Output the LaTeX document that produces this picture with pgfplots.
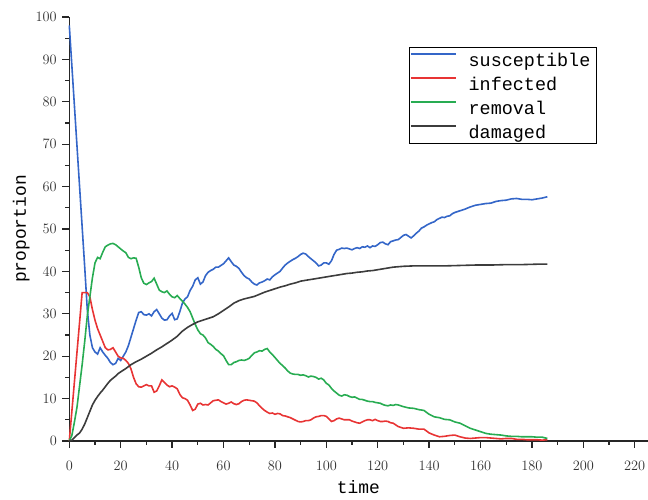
\documentclass[border=0pt]{standalone}
\usepackage{pgfplots}
\pgfplotsset{compat=1.18}
\usepackage{pgfplotstable}
\usepackage{fontspec}
\setmonofont{Liberation Mono}
\definecolor{cS}{RGB}{52,102,200}
\definecolor{cI}{RGB}{232,52,52}
\definecolor{cR}{RGB}{40,172,82}
\definecolor{cD}{RGB}{60,60,60}
\pgfplotstableread{
x y
0 98
1 88.5
2 79
3 69.5
4 60
5 50.5
6 41
7 31
8 25
9 22
10 21
11 20.5
12 22
13 21
14 20.2
15 19.5
16 18.5
17 18
18 18.3
19 19.5
20 19
21 20
22 21
23 22.5
24 24.5
25 26.5
26 28.5
27 30.3
28 30.5
29 29.8
30 29.7
31 30
32 29.5
33 30.5
34 31
35 30
36 29
37 28.5
38 28.6
39 29.5
40 30.1
41 28.6
42 28.8
43 30.5
44 32.5
45 33.5
46 34
47 35.5
48 36.5
49 38
50 38.5
51 37
52 37.5
53 39
54 39.8
55 40.2
56 40.5
57 41
58 41
59 41.4
60 41.8
61 42.5
62 43.2
63 42.3
64 41.5
65 41.2
66 40.7
67 39.8
68 39
69 38.5
70 38.2
71 37.5
72 37
73 36.8
74 37.3
75 37.5
76 37.8
77 38.2
78 38
79 38.7
80 39.2
81 39.6
82 40
83 40.8
84 41.5
85 42
86 42.4
87 42.8
88 43.1
89 43.5
90 44
91 44.3
92 44.1
93 43.5
94 43
95 42.5
96 42
97 41.3
98 41.5
99 42
100 42
101 41.7
102 42.5
103 44
104 45
105 45.2
106 45.5
107 45.4
108 45.5
109 45.3
110 45.1
111 45.4
112 45.6
113 45.4
114 45.8
115 45.7
116 46
117 45.6
118 46
119 45.9
120 46.3
121 46.8
122 46.9
123 46.5
124 46.3
125 47
126 47.2
127 47.4
128 47.5
129 48
130 48.5
131 48.7
132 48.3
133 47.9
134 48.4
135 49
136 49.5
137 50.2
138 50.5
139 50.9
140 51.2
141 51.5
142 51.7
143 52.2
144 52.5
145 52.8
146 52.7
147 53
148 53.1
149 53.6
150 53.9
152 54.3
154 54.7
156 55.2
158 55.6
160 55.8
162 56
164 56.1
166 56.5
168 56.7
170 56.8
172 57.1
174 57.2
176 57
178 57
180 56.9
182 57.1
184 57.3
186 57.6
}\tabS
\pgfplotstableread{
x y
0 0
1 7
2 14
3 21
4 28
5 35
6 35
7 35
8 34
9 31
10 28.5
11 26.5
12 25
13 23.5
14 22
15 21.5
16 21.6
17 22
18 21
19 20
20 19.6
21 19.5
22 19
23 18.3
24 17
25 15
26 13.5
27 12.8
28 12.7
29 13
30 13.3
31 13
32 13
33 11.5
34 11.8
35 13
36 14.4
37 13.8
38 13.2
39 12.8
40 13
41 12.7
42 12.3
43 11
44 10.2
45 10
46 9.6
47 8.5
48 7.2
49 7.5
50 8.7
51 8.9
52 8.5
53 8.6
54 8.5
55 9
56 9.5
57 9.6
58 9.7
59 9.3
60 9
61 8.7
62 8.9
63 9.2
64 8.8
65 8.6
66 8.8
67 9.3
68 9.6
69 9.7
70 9.6
71 9.5
72 9.4
73 9
74 8.3
75 7.7
76 7.2
77 6.8
78 6.5
79 6.6
80 6.3
81 6.5
82 6.4
83 6.0
84 5.9
85 5.7
86 5.5
87 5.2
88 4.9
89 4.6
90 4.5
91 4.6
92 4.8
93 4.8
94 5
95 5.4
96 5.7
97 5.8
98 6
99 6
100 5.8
101 5.2
102 4.6
103 4.8
104 5.2
105 5.4
106 5.2
107 5
108 5
109 5
110 4.7
111 4.5
112 4.3
113 4.2
114 4.5
115 4.8
116 5
117 5
118 4.8
119 5.1
120 4.8
121 4.6
122 4.6
123 4.7
124 4.6
125 4.3
126 4.2
127 3.8
128 3.4
129 3.2
130 3
132 3.1
134 3
136 2.8
138 2.8
140 1.9
142 1.4
144 1
146 1.1
148 1.3
150 1.4
152 1
154 0.7
156 0.6
158 0.7
160 0.8
162 0.8
164 0.7
166 0.6
168 0.5
170 0.6
172 0.6
174 0.4
176 0.4
178 0.3
180 0.3
182 0.3
184 0.2
186 0.3
}\tabI
\pgfplotstableread{
x y
0 0
1 1.3
2 4.5
3 8
4 13
5 18
6 23.5
7 29.5
8 34
9 38.5
10 42
11 43.3
12 43
13 44.5
14 45.8
15 46.2
16 46.5
17 46.6
18 46.3
19 45.8
20 45.3
21 44.8
22 44.4
23 43.3
24 43
25 43.2
26 43.1
27 41
28 38.5
29 37.2
30 36.9
31 37.3
32 37.6
33 38.4
34 37
35 35.6
36 35.2
37 35
38 35.4
39 34.6
40 34
41 33.8
42 34.3
43 33.6
44 33
45 32.3
46 31.5
47 30.5
48 29
49 27.5
50 26.2
51 25.3
52 25
53 24.3
54 23.2
55 22.8
56 22.3
57 21.6
58 21.2
59 20.6
60 20.1
61 19
62 18
63 18
64 18.5
65 18.7
66 19
67 19.1
68 19
69 19.2
70 19.5
71 20.2
72 20.8
73 21
74 21.3
75 21.2
76 21.6
77 21.8
78 21
79 20.4
80 19.7
81 19
82 18.3
83 17.8
84 17.2
85 16.5
86 16
87 15.8
88 15.7
89 15.7
90 15.5
91 15.6
92 15.4
93 15.1
94 15.3
95 15.2
96 15
97 14.6
98 14.8
99 14.4
100 13.6
101 13.2
102 12.4
103 11.8
104 11.3
105 10.8
106 10.6
107 10.9
108 10.8
109 10.5
110 10.3
111 10.4
112 10.1
113 9.8
114 9.8
115 9.6
116 9.4
117 9.3
118 9.3
119 9.1
120 9
121 8.9
122 8.6
123 8.4
124 8.3
125 8.5
126 8.4
127 8.6
128 8.5
130 8.1
132 7.8
134 7.7
136 7.4
138 7.2
140 6.3
142 5.7
144 5.5
146 5.1
148 5
150 4.5
152 4.2
154 3.6
156 3
158 2.6
160 2.2
162 1.8
164 1.6
166 1.5
168 1.4
170 1.2
172 1.1
174 1.1
176 1
178 1
180 1.0
182 0.9
184 0.9
186 0.6
}\tabR
\pgfplotstableread{
x y
0 0
1 0.2
2 0.8
3 1.4
4 1.9
5 2.8
6 4
7 5.5
8 7
9 8.5
10 9.6
11 10.5
12 11.3
13 12
14 12.8
15 13.6
16 14.3
17 14.8
18 15.3
19 15.9
20 16.3
22 17.1
24 18
26 18.7
28 19.3
30 20
32 20.7
34 21.5
36 22.2
38 23
40 23.8
42 24.7
44 25.9
46 26.8
48 27.5
50 28.1
52 28.5
54 28.9
56 29.3
58 30
60 30.8
62 31.6
64 32.5
66 33.1
68 33.5
70 33.8
72 34.1
74 34.6
76 35.1
78 35.5
80 35.9
82 36.3
84 36.6
86 37
88 37.3
90 37.7
92 37.9
94 38.1
96 38.3
98 38.5
100 38.7
102 38.9
104 39.1
106 39.3
108 39.5
110 39.6
112 39.8
114 39.9
116 40.1
118 40.2
120 40.4
122 40.6
124 40.8
126 41
128 41.1
130 41.2
134 41.3
140 41.3
146 41.3
152 41.4
158 41.5
164 41.5
170 41.6
176 41.6
182 41.7
186 41.7
}\tabD
\begin{document}
\begin{tikzpicture}
\begin{axis}[
  scale only axis,
  width=578.3bp, height=424bp,
  xmin=0, xmax=225, ymin=0, ymax=100,
  axis x line*=bottom, axis y line*=left,
  axis line style={-, line width=1.4bp, black!85},
  xtick={0,20,...,220}, ytick={0,10,...,100},
  minor x tick num=1, minor y tick num=1,
  tick align=outside,
  major tick length=7bp, minor tick length=4bp,
  every tick/.style={black!85, line width=1.3bp},
  ticklabel style={font=\fontsize{15}{18}\selectfont, black!80},
  xticklabel style={yshift=-10bp},
  yticklabel style={xshift=-2bp},
  xlabel={time}, ylabel={proportion},
  xlabel style={font=\ttfamily\fontsize{18}{20}\selectfont, at={(rel axis cs:0.5,0)}, anchor=north, inner sep=0pt, yshift=-39bp},
  ylabel style={font=\ttfamily\fontsize{18}{20}\selectfont, at={(axis description cs:-0.083,0.5)}, anchor=center, inner sep=0pt},
  legend cell align=left,
  legend style={at={(rel axis cs:0.587,0.929)}, anchor=north west,
    font=\ttfamily\fontsize{18.5}{20}\selectfont, inner xsep=1bp, inner ysep=0bp,
    nodes={inner xsep=5bp, inner ysep=2.5bp, text height=17bp, text depth=2bp}},
  legend image code/.code={\draw[#1, line width=1.8bp] (-3bp,5bp) -- (42bp,5bp); \path (49bp,5bp);},
  every axis plot/.append style={line width=1.6bp},
  clip=false,
]
\addplot[color=cS] table[x=x,y=y] {\tabS};
\addlegendentry{susceptible}
\addplot[color=cI] table[x=x,y=y] {\tabI};
\addlegendentry{infected}
\addplot[color=cR] table[x=x,y=y] {\tabR};
\addlegendentry{removal}
\addplot[color=cD] table[x=x,y=y] {\tabD};
\addlegendentry{damaged}
\end{axis}
\pgfresetboundingbox
\path ([shift={(-69.3bp,-59bp)}]current axis.south west) rectangle ([shift={(0.4bp,17bp)}]current axis.north east);
\end{tikzpicture}
\end{document}
